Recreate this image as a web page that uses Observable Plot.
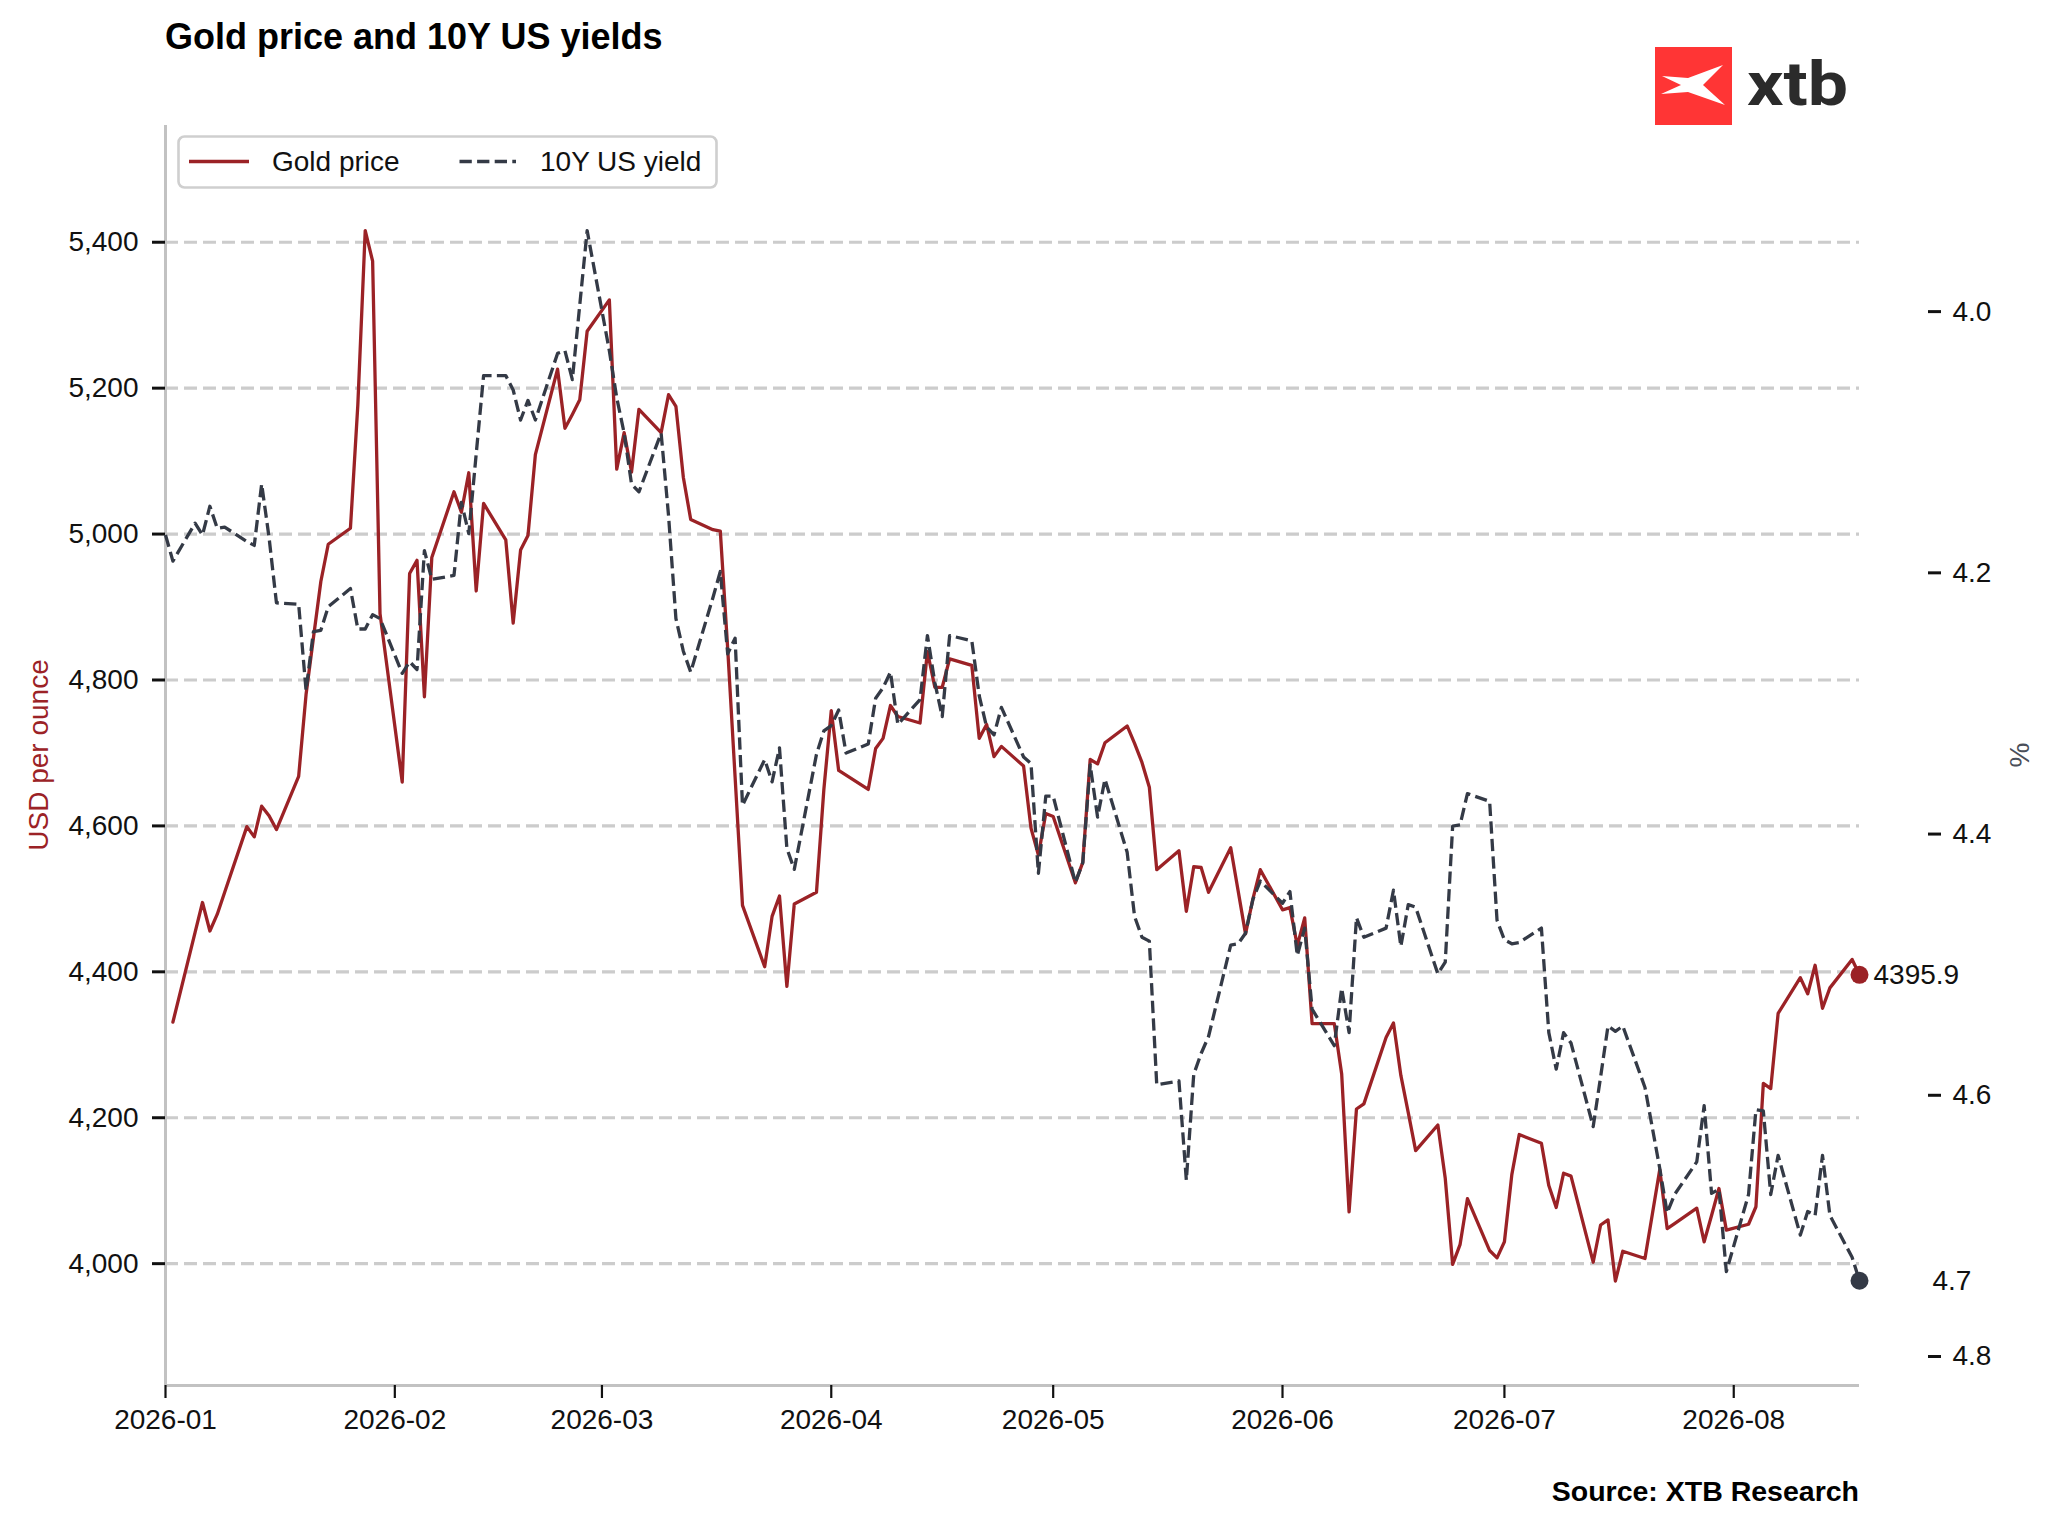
<!DOCTYPE html>
<html>
<head>
<meta charset="utf-8">
<script src="https://cdn.jsdelivr.net/npm/d3@7"></script>
<script src="https://cdn.jsdelivr.net/npm/@observablehq/plot@0.6"></script>
<style>
  html, body { margin: 0; padding: 0; background: #fff; overflow: hidden; }
  #chart { position: relative; width: 2048px; height: 1530px; font-family: "Liberation Sans", Arial, sans-serif; }
  #chart > svg { position: absolute; left: 0; top: 0; }
  .title { position: absolute; left: 165px; top: 19px; font-size: 36px; font-weight: bold; color: #000; white-space: nowrap; line-height: 36px; }
  .source { position: absolute; right: 189px; top: 1477px; font-size: 28.5px; font-weight: bold; color: #000; white-space: nowrap; line-height: 28.5px; }
</style>
</head>
<body>
<div id="chart"></div>
<script>
// ---------------- data ----------------
const dates = [
  "2026-01-01","2026-01-02","2026-01-05","2026-01-06","2026-01-07","2026-01-08","2026-01-09",
  "2026-01-12","2026-01-13","2026-01-14","2026-01-15","2026-01-16",
  "2026-01-19","2026-01-20","2026-01-21","2026-01-22","2026-01-23",
  "2026-01-26","2026-01-27","2026-01-28","2026-01-29","2026-01-30",
  "2026-02-02","2026-02-03","2026-02-04","2026-02-05","2026-02-06",
  "2026-02-09","2026-02-10","2026-02-11","2026-02-12","2026-02-13",
  "2026-02-16","2026-02-17","2026-02-18","2026-02-19","2026-02-20",
  "2026-02-23","2026-02-24","2026-02-25","2026-02-26","2026-02-27",
  "2026-03-02","2026-03-03","2026-03-04","2026-03-05","2026-03-06",
  "2026-03-09","2026-03-10","2026-03-11","2026-03-12","2026-03-13",
  "2026-03-16","2026-03-17","2026-03-18","2026-03-19","2026-03-20",
  "2026-03-23","2026-03-24","2026-03-25","2026-03-26","2026-03-27",
  "2026-03-30","2026-03-31","2026-04-01","2026-04-02","2026-04-03",
  "2026-04-06","2026-04-07","2026-04-08","2026-04-09","2026-04-10",
  "2026-04-13","2026-04-14","2026-04-15","2026-04-16","2026-04-17",
  "2026-04-20","2026-04-21","2026-04-22","2026-04-23","2026-04-24",
  "2026-04-27","2026-04-28","2026-04-29","2026-04-30","2026-05-01",
  "2026-05-04","2026-05-05","2026-05-06","2026-05-07","2026-05-08",
  "2026-05-11","2026-05-12","2026-05-13","2026-05-14","2026-05-15",
  "2026-05-18","2026-05-19","2026-05-20","2026-05-21","2026-05-22",
  "2026-05-25","2026-05-26","2026-05-27","2026-05-28","2026-05-29",
  "2026-06-01","2026-06-02","2026-06-03","2026-06-04","2026-06-05",
  "2026-06-08","2026-06-09","2026-06-10","2026-06-11","2026-06-12",
  "2026-06-15","2026-06-16","2026-06-17","2026-06-18","2026-06-19",
  "2026-06-22","2026-06-23","2026-06-24","2026-06-25","2026-06-26",
  "2026-06-29","2026-06-30","2026-07-01","2026-07-02","2026-07-03",
  "2026-07-06","2026-07-07","2026-07-08","2026-07-09","2026-07-10",
  "2026-07-13","2026-07-14","2026-07-15","2026-07-16","2026-07-17",
  "2026-07-20","2026-07-21","2026-07-22","2026-07-23","2026-07-24",
  "2026-07-27","2026-07-28","2026-07-29","2026-07-30","2026-07-31",
  "2026-08-03","2026-08-04","2026-08-05","2026-08-06","2026-08-07",
  "2026-08-10","2026-08-11","2026-08-12","2026-08-13","2026-08-14",
  "2026-08-17","2026-08-18"
];

const goldPrice = [
  null,4331,4454,4495,4456,4479,4509,
  4599,4585,4627,4614,4595,
  4668,4780,4858,4935,4986,
  5008,5177,5416,5374,4891,
  4660,4946,4964,4777,4968,
  5058,5030,5084,4922,5042,
  4992,4878,4978,4998,5109,
  5226,5145,5164,5184,5278,
  5321,5089,5139,5085,5171,
  5139,5191,5175,5078,5020,
  5006,5004,4843,4667,4491,
  4407,4476,4504,4380,4493,
  4509,4650,4758,4676,null,
  4650,4706,4720,4765,4750,
  4741,4839,4790,4790,4829,
  4820,4720,4739,4695,4709,
  4682,4597,4560,4617,4613,
  4522,4550,4691,4685,4714,
  4737,4713,4687,4653,4540,
  4566,4483,4544,4543,4509,
  4570,4511,4452,4500,4540,
  4485,4488,4436,4474,4329,
  4329,4260,4071,4212,4219,
  4310,4330,4258,4207,4155,
  4190,4117,3999,4026,4089,
  4018,4008,4030,4122,4177,
  4165,4107,4077,4124,4120,
  4002,4053,4060,3976,4017,
  4007,4068,4129,4048,4055,
  4076,4030,4066,4103,4046,
  4054,4078,4247,4240,4343,
  4392,4370,4409,4350,4378,
  4417,4395.9
];

const yield10y = [
  4.171,4.191,4.162,4.171,4.149,4.166,4.165,
  4.176,4.179,4.132,4.173,4.223,
  4.224,4.290,4.245,4.244,4.226,
  4.212,4.243,4.243,4.232,4.235,
  4.277,4.268,4.274,4.183,4.205,
  4.202,4.146,4.170,4.109,4.049,
  4.049,4.060,4.083,4.068,4.083,
  4.032,4.030,4.052,3.995,3.938,
  4.030,4.066,4.093,4.132,4.138,
  4.093,4.156,4.235,4.260,4.276,
  4.219,4.199,4.262,4.250,4.378,
  4.343,4.360,4.334,4.411,4.427,
  4.339,4.321,4.317,4.305,4.338,
  4.331,4.296,4.288,4.276,4.316,
  4.297,4.248,4.284,4.310,4.248,
  4.252,4.294,4.318,4.324,4.303,
  4.341,4.346,4.430,4.371,4.371,
  4.437,4.422,4.347,4.387,4.358,
  4.414,4.463,4.479,4.482,4.592,
  4.589,4.665,4.584,4.568,4.555,
  4.485,4.484,4.476,4.450,4.436,
  4.453,4.444,4.493,4.472,4.534,
  4.562,4.518,4.552,4.464,4.479,
  4.472,4.443,4.486,4.454,4.456,
  4.507,4.498,4.394,4.393,4.369,
  4.375,4.466,4.481,4.484,4.483,
  4.472,4.552,4.580,4.552,4.560,
  4.624,4.586,4.547,4.551,4.547,
  4.594,4.625,4.656,4.690,4.676,
  4.651,4.608,4.675,4.672,4.735,
  4.676,4.611,4.612,4.676,4.646,
  4.707,4.689,4.692,4.646,4.692,
  4.724,4.742
];

const goldTicks = [4000, 4200, 4400, 4600, 4800, 5000, 5200, 5400];
const yieldTicks = [4.0, 4.2, 4.4, 4.6, 4.8];
const monthTicks = ["2026-01-01","2026-02-01","2026-03-01","2026-04-01","2026-05-01","2026-06-01","2026-07-01","2026-08-01"];

const titleText = "Gold price and 10Y US yields";
const sourceText = "Source: XTB Research";
const goldLabel = "Gold price";
const yieldLabel = "10Y US yield";
const leftAxisLabel = "USD per ounce";
const rightAxisLabel = "%";

// ---------------- styling ----------------
const FONT = '"Liberation Sans", Arial, sans-serif';
const GOLD = "#9b2226";
const DARK = "#343a46";
const GRID = "#cccccc";
const SPINE = "#c2c2c2";
const W = 2048, H = 1530;
const ML = 165, MR = 189, MT = 125, MB = 145;
const RIGHT_AXIS_X = 1927;

// ---------------- build tables ----------------
const parse = d3.utcParse("%Y-%m-%d");
const rows = dates.map((d, i) => ({date: parse(d), gold: goldPrice[i], yld: yield10y[i]}));
const goldRows = rows.filter(r => r.gold != null);
const yieldRows = rows.filter(r => r.yld != null);
const lastGold = goldRows[goldRows.length - 1];
const lastYield = yieldRows[yieldRows.length - 1];
const xDomain = [parse(monthTicks[0]), parse(dates[dates.length - 1])];
const goldDomain = [3833, 5560];
const yieldDomain = [3.8575, 4.8222];

const chart = document.getElementById("chart");

const goldPlot = Plot.plot({
  width: W, height: H,
  marginTop: MT, marginBottom: MB, marginLeft: ML, marginRight: MR,
  style: {fontFamily: FONT, fontSize: "28px", color: "#000", background: "transparent", overflow: "visible"},
  x: {type: "utc", domain: xDomain},
  y: {domain: goldDomain},
  marks: [
    Plot.gridY(goldTicks, {stroke: GRID, strokeOpacity: 1, strokeWidth: 3.2, strokeDasharray: "13,6"}),
    Plot.ruleX([xDomain[0]], {stroke: SPINE, strokeWidth: 3}),
    Plot.ruleY([goldDomain[0]], {stroke: SPINE, strokeWidth: 3}),
    Plot.axisY(goldTicks, {
      tickSize: 13, tickPadding: 14, tickFormat: d3.format(","),
      stroke: "#111", strokeWidth: 3, fill: "#111", fontSize: 28, label: null
    }),
    Plot.axisX(monthTicks.map(parse), {
      tickSize: 13, tickPadding: 11, tickFormat: d3.utcFormat("%Y-%m"),
      stroke: "#111", strokeWidth: 2.2, fill: "#111", fontSize: 28, label: null
    }),
    Plot.line(goldRows, {x: "date", y: "gold", stroke: GOLD, strokeWidth: 3.3}),
    Plot.dot([lastGold], {x: "date", y: "gold", r: 9, fill: GOLD, stroke: null}),
    Plot.text([lastGold], {x: "date", y: "gold", text: d => d.gold.toFixed(1), dx: 14, textAnchor: "start", fontSize: 28, fill: "#111"})
  ]
});
chart.appendChild(goldPlot);

const yieldPlot = Plot.plot({
  width: W, height: H,
  marginTop: MT, marginBottom: MB, marginLeft: ML, marginRight: W - RIGHT_AXIS_X,
  style: {fontFamily: FONT, fontSize: "28px", color: "#000", background: "transparent", overflow: "visible"},
  x: {type: "utc", domain: xDomain, range: [ML, W - MR], axis: null},
  y: {domain: yieldDomain, reverse: true},
  marks: [
    Plot.axisY(yieldTicks, {
      anchor: "right", tickSize: 13, tickPadding: 12, tickFormat: d3.format(".1f"),
      stroke: "#111", strokeWidth: 3, fill: "#111", fontSize: 28, label: null
    }),
    Plot.line(yieldRows, {x: "date", y: "yld", stroke: DARK, strokeWidth: 3.3, strokeDasharray: "12.3,5.3", strokeLinecap: "butt"}),
    Plot.dot([lastYield], {x: "date", y: "yld", r: 9, fill: DARK, stroke: null}),
    Plot.text([lastYield], {x: "date", y: "yld", text: d => d.yld.toFixed(1), dx: 73, textAnchor: "start", fontSize: 28, fill: "#111"})
  ]
});
chart.appendChild(yieldPlot);

// ---------------- overlay: legend, axis labels, logo ----------------
const ov = d3.select(chart).append("svg")
  .attr("width", W).attr("height", H)
  .style("position", "absolute").style("left", 0).style("top", 0)
  .style("font-family", FONT);

// legend
const lg = ov.append("g");
lg.append("rect").attr("x", 178.5).attr("y", 136.5).attr("width", 538).attr("height", 51).attr("rx", 6)
  .attr("fill", "#fff").attr("fill-opacity", 0.85).attr("stroke", "#cfcfcf").attr("stroke-width", 2.6);
lg.append("line").attr("x1", 189).attr("x2", 249).attr("y1", 161.5).attr("y2", 161.5)
  .attr("stroke", GOLD).attr("stroke-width", 3.3);
lg.append("text").attr("x", 272).attr("y", 171).attr("font-size", 28).attr("fill", "#111").text(goldLabel);
lg.append("line").attr("x1", 459.5).attr("x2", 516).attr("y1", 161.5).attr("y2", 161.5)
  .attr("stroke", DARK).attr("stroke-width", 3.3).attr("stroke-dasharray", "12.3,5.3");
lg.append("text").attr("x", 540).attr("y", 171).attr("font-size", 28).attr("fill", "#111").text(yieldLabel);

// axis labels
ov.append("text").attr("transform", `translate(48,${(MT + H - MB) / 2}) rotate(-90)`)
  .attr("text-anchor", "middle").attr("font-size", 28).attr("fill", GOLD).text(leftAxisLabel);
ov.append("text").attr("transform", `translate(2029,${(MT + H - MB) / 2}) rotate(-90)`)
  .attr("text-anchor", "middle").attr("font-size", 28).attr("fill", "#4a4f5a").text(rightAxisLabel);

// logo
const logo = ov.append("g").attr("transform", "translate(1655,47)");
logo.append("rect").attr("width", 77).attr("height", 78).attr("fill", "#ff3535");
logo.append("polygon").attr("fill", "#fff")
  .attr("points", "7,29 33,31 68,18 48,38 70,58 33,45 6,47 26,38");
logo.append("text").attr("x", 92).attr("y", 58).attr("font-family", "Roboto, 'Liberation Sans', sans-serif")
  .attr("font-weight", 700).attr("font-size", 61).attr("fill", "#2b2b2b")
  .attr("textLength", 101).attr("lengthAdjust", "spacingAndGlyphs").text("xtb");

// title & source
const t = document.createElement("div"); t.className = "title"; t.textContent = titleText; chart.appendChild(t);
const s = document.createElement("div"); s.className = "source"; s.textContent = sourceText; chart.appendChild(s);
</script>
</body>
</html>
